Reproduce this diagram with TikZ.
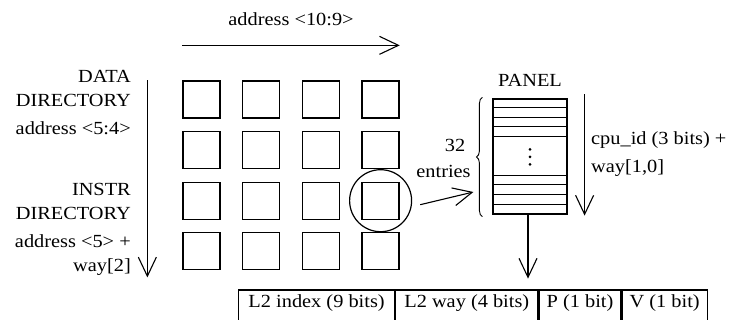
\documentclass[tikz,border=0pt]{standalone}
\usepackage{fontspec}
\setmainfont{Liberation Serif}[FakeStretch=1.1]
\usetikzlibrary{arrows.meta, positioning, calc, decorations.pathreplacing}
\newcommand\figfont{\fontsize{18.5pt}{24pt}\selectfont}
\tikzset{vee arrow/.style={-{Straight Barb[length=19pt,width=18pt]}, line width=1.1pt},
    bank/.style={draw, line width=1.3pt, minimum size=37pt, inner sep=0pt},
    field/.style={draw, line width=1.2pt, font=\figfont, minimum height=40pt,
      inner xsep=0pt, inner ysep=3pt, text height=14pt, text depth=20pt, anchor=west},
    lbl/.style={font=\figfont, inner sep=0pt},}

\begin{document}
\begin{tikzpicture}[x=1pt, y=-1pt]
                    \useasboundingbox (0,0) rectangle (730,320);
                    \clip (0,0) rectangle (730,320);
                    %Directory banks, 4 by 4:
                    \foreach \i in {0,...,3}
                      \foreach \j in {0,...,3}
                        \node[bank] (sq-\i-\j) at (201.5+59.7*\i, 99.5+50.6*\j) {};
                    \node[draw, circle, line width=1.2pt, minimum size=62pt, inner sep=0pt] (sel) at (sq-3-2) {};
                    %Index arrows along the grid:
                        \draw[vee arrow] ($(sq-0-0.north west)+(0,-35)$) -- ($(sq-3-0.north east)+(0,-35)$)
                            node[lbl, midway, anchor=base, yshift=19.5pt] (colidx) {address <10:9>};
                        \draw[vee arrow] ($(sq-0-0.north west)+(-35,0)$) -- ($(sq-0-3.south west)+(-35,7)$);
                        \foreach \txt/\yb [count=\k] in {DATA/82.7, DIRECTORY/106.7, {address <5:4>}/135,
                            INSTR/195.7, DIRECTORY/220, {address <5> +}/247.7, {way[2]}/271.7}
                          \node[lbl, anchor=base east] (side-\k) at (131,\yb) {\txt};
                    %Panel with its entries:
                    \node[draw, line width=1.2pt, minimum width=74pt, minimum height=115pt, inner sep=0pt] (panel) at (530,156.5) {};
                        \foreach \dy in {9.5,19,28.5,77,96.5,106}
                          \draw[line width=.9pt] ($(panel.north west)+(0,\dy)$) -- ($(panel.north east)+(0,\dy)$);
                        \foreach \dy in {38,86}
                          \draw[line width=1.7pt] ($(panel.north west)+(0,\dy)$) -- ($(panel.north east)+(0,\dy)$);
                        \foreach \dy in {51,58.5,66}
                          \fill ($(panel.north)+(0,\dy)$) circle (1.5pt);
                        \node[lbl, anchor=base] (paneltitle) at ($(panel.north)+(0,-12)$) {PANEL};
                        \draw[line width=.9pt, decorate, decoration={brace, amplitude=6pt}]
                            ($(panel.south west)+(-10,2)$) -- ($(panel.north west)+(-10,-1)$);
                        \node[lbl, anchor=base] (count) at (455,152) {32};
                        \node[lbl, anchor=base] (countb) at (443.5,178) {entries};
                        \draw[vee arrow] ($(sel.east)+(8,4)$) -- ($(panel.west)+(-19,35.5)$);
                        \draw[vee arrow] ($(panel.north east)+(17,-4)$) -- ($(panel.south east)+(17,1)$);
                        \node[lbl, anchor=base west] (cpu) at (591,145) {cpu\_id (3 bits) +};
                        \node[lbl, anchor=base west] (cpub) at (591,172.5) {way[1,0]};
                    %Entry format:
                        \node[field, minimum width=156pt] (idx) at (238,310) {L2 index (9 bits)};
                        \node[field, minimum width=142pt, right=0pt of idx] (way) {L2 way (4 bits)};
                        \node[field, minimum width=82pt, right=0pt of way] (pbit) {P (1 bit)};
                        \node[field, minimum width=85pt, right=0pt of pbit] (vbit) {V (1 bit)};
                        \draw[vee arrow] ($(panel.south)+(-2,0)$) -- ($(panel.south)+(-2,64)$);
                \end{tikzpicture}
\end{document}
